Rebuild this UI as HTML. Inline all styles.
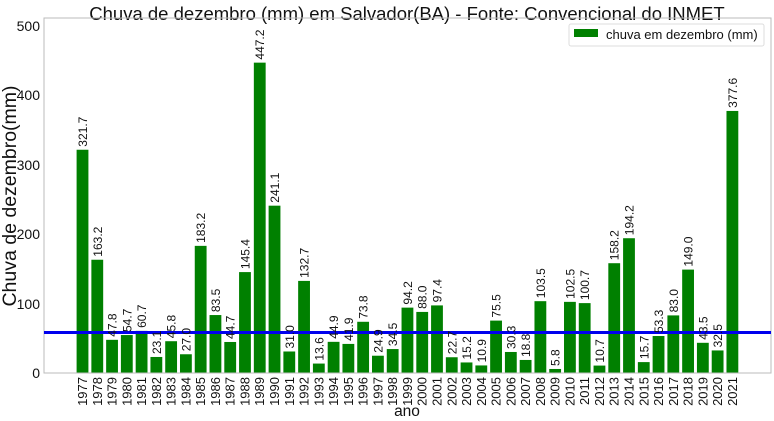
<!DOCTYPE html>
<html><head><meta charset="utf-8"><style>
html,body{margin:0;padding:0;background:#fff;}
svg{display:block;font-family:"Liberation Sans","DejaVu Sans",sans-serif;}
.v{font-size:12px;fill:#111;}
.y{font-size:13px;fill:#111;text-anchor:end;}
</style></head><body>
<svg width="774" height="421" viewBox="0 0 774 421" xmlns="http://www.w3.org/2000/svg">
<rect width="774" height="421" fill="#fff"/>
<text x="407" y="20" font-size="18.5" text-anchor="middle" fill="#111">Chuva de dezembro (mm) em Salvador(BA) - Fonte: Convencional do INMET</text>
<g transform="matrix(14.77 0 0 -0.694 76.6 373)" fill="#008000">
<rect x="0" y="0" width="0.8" height="321.7"/><rect x="1" y="0" width="0.8" height="163.2"/><rect x="2" y="0" width="0.8" height="47.8"/><rect x="3" y="0" width="0.8" height="54.7"/><rect x="4" y="0" width="0.8" height="60.7"/><rect x="5" y="0" width="0.8" height="23.1"/><rect x="6" y="0" width="0.8" height="45.8"/><rect x="7" y="0" width="0.8" height="27.0"/><rect x="8" y="0" width="0.8" height="183.2"/><rect x="9" y="0" width="0.8" height="83.5"/><rect x="10" y="0" width="0.8" height="44.7"/><rect x="11" y="0" width="0.8" height="145.4"/><rect x="12" y="0" width="0.8" height="447.2"/><rect x="13" y="0" width="0.8" height="241.1"/><rect x="14" y="0" width="0.8" height="31.0"/><rect x="15" y="0" width="0.8" height="132.7"/><rect x="16" y="0" width="0.8" height="13.6"/><rect x="17" y="0" width="0.8" height="44.9"/><rect x="18" y="0" width="0.8" height="41.9"/><rect x="19" y="0" width="0.8" height="73.8"/><rect x="20" y="0" width="0.8" height="24.9"/><rect x="21" y="0" width="0.8" height="34.5"/><rect x="22" y="0" width="0.8" height="94.2"/><rect x="23" y="0" width="0.8" height="88.0"/><rect x="24" y="0" width="0.8" height="97.4"/><rect x="25" y="0" width="0.8" height="22.7"/><rect x="26" y="0" width="0.8" height="15.2"/><rect x="27" y="0" width="0.8" height="10.9"/><rect x="28" y="0" width="0.8" height="75.5"/><rect x="29" y="0" width="0.8" height="30.3"/><rect x="30" y="0" width="0.8" height="18.8"/><rect x="31" y="0" width="0.8" height="103.5"/><rect x="32" y="0" width="0.8" height="5.8"/><rect x="33" y="0" width="0.8" height="102.5"/><rect x="34" y="0" width="0.8" height="100.7"/><rect x="35" y="0" width="0.8" height="10.7"/><rect x="36" y="0" width="0.8" height="158.2"/><rect x="37" y="0" width="0.8" height="194.2"/><rect x="38" y="0" width="0.8" height="15.7"/><rect x="39" y="0" width="0.8" height="53.3"/><rect x="40" y="0" width="0.8" height="83.0"/><rect x="41" y="0" width="0.8" height="149.0"/><rect x="42" y="0" width="0.8" height="43.5"/><rect x="43" y="0" width="0.8" height="32.5"/><rect x="44" y="0" width="0.8" height="377.6"/>
</g>
<rect x="44" y="18" width="727" height="355" fill="none" stroke="#bbb" stroke-width="1"/>
<line x1="44" y1="332.5" x2="771" y2="332.5" stroke="#0000ee" stroke-width="3"/>
<g font-size="14" fill="#111" text-anchor="end">
<text x="40" y="378">0</text><text x="40" y="309">100</text><text x="40" y="239">200</text><text x="40" y="170">300</text><text x="40" y="100">400</text><text x="40" y="31">500</text>
</g>
<text transform="translate(16,196) rotate(-90)" font-size="19.5" text-anchor="middle" fill="#111">Chuva de dezembro(mm)</text>
<text x="407" y="416" font-size="15.5" text-anchor="middle" fill="#111">ano</text>
<g class="v">
<text transform="translate(87,146.7) rotate(-90)">321.7</text>
<text transform="translate(101.8,256.7) rotate(-90)">163.2</text>
<text transform="translate(116.5,336.8) rotate(-90)">47.8</text>
<text transform="translate(131.3,332) rotate(-90)">54.7</text>
<text transform="translate(146.1,327.9) rotate(-90)">60.7</text>
<text transform="translate(160.9,354) rotate(-90)">23.1</text>
<text transform="translate(175.6,338.2) rotate(-90)">45.8</text>
<text transform="translate(190.4,351.3) rotate(-90)">27.0</text>
<text transform="translate(205.2,242.9) rotate(-90)">183.2</text>
<text transform="translate(219.9,312.1) rotate(-90)">83.5</text>
<text transform="translate(234.7,339) rotate(-90)">44.7</text>
<text transform="translate(249.5,269.1) rotate(-90)">145.4</text>
<text transform="translate(264.2,59.6) rotate(-90)">447.2</text>
<text transform="translate(279,202.7) rotate(-90)">241.1</text>
<text transform="translate(293.8,348.5) rotate(-90)">31.0</text>
<text transform="translate(308.6,277.9) rotate(-90)">132.7</text>
<text transform="translate(323.3,360.6) rotate(-90)">13.6</text>
<text transform="translate(338.1,338.8) rotate(-90)">44.9</text>
<text transform="translate(352.9,340.9) rotate(-90)">41.9</text>
<text transform="translate(367.6,318.8) rotate(-90)">73.8</text>
<text transform="translate(382.4,352.7) rotate(-90)">24.9</text>
<text transform="translate(397.2,346.1) rotate(-90)">34.5</text>
<text transform="translate(411.9,304.6) rotate(-90)">94.2</text>
<text transform="translate(426.7,308.9) rotate(-90)">88.0</text>
<text transform="translate(441.5,302.4) rotate(-90)">97.4</text>
<text transform="translate(456.3,354.2) rotate(-90)">22.7</text>
<text transform="translate(471,359.5) rotate(-90)">15.2</text>
<text transform="translate(485.8,362.4) rotate(-90)">10.9</text>
<text transform="translate(500.6,317.6) rotate(-90)">75.5</text>
<text transform="translate(515.3,349) rotate(-90)">30.3</text>
<text transform="translate(530.1,357) rotate(-90)">18.8</text>
<text transform="translate(544.9,298.2) rotate(-90)">103.5</text>
<text transform="translate(559.6,366) rotate(-90)">5.8</text>
<text transform="translate(574.4,298.9) rotate(-90)">102.5</text>
<text transform="translate(589.2,300.1) rotate(-90)">100.7</text>
<text transform="translate(604,362.6) rotate(-90)">10.7</text>
<text transform="translate(618.7,260.2) rotate(-90)">158.2</text>
<text transform="translate(633.5,235.2) rotate(-90)">194.2</text>
<text transform="translate(648.3,359.1) rotate(-90)">15.7</text>
<text transform="translate(663,333) rotate(-90)">53.3</text>
<text transform="translate(677.8,312.4) rotate(-90)">83.0</text>
<text transform="translate(692.6,266.6) rotate(-90)">149.0</text>
<text transform="translate(707.3,339.8) rotate(-90)">43.5</text>
<text transform="translate(722.1,347.4) rotate(-90)">32.5</text>
<text transform="translate(736.9,107.9) rotate(-90)">377.6</text>
</g>
<g class="y">
<text transform="translate(87,377) rotate(-90)">1977</text>
<text transform="translate(101.8,377) rotate(-90)">1978</text>
<text transform="translate(116.5,377) rotate(-90)">1979</text>
<text transform="translate(131.3,377) rotate(-90)">1980</text>
<text transform="translate(146.1,377) rotate(-90)">1981</text>
<text transform="translate(160.9,377) rotate(-90)">1982</text>
<text transform="translate(175.6,377) rotate(-90)">1983</text>
<text transform="translate(190.4,377) rotate(-90)">1984</text>
<text transform="translate(205.2,377) rotate(-90)">1985</text>
<text transform="translate(219.9,377) rotate(-90)">1986</text>
<text transform="translate(234.7,377) rotate(-90)">1987</text>
<text transform="translate(249.5,377) rotate(-90)">1988</text>
<text transform="translate(264.2,377) rotate(-90)">1989</text>
<text transform="translate(279,377) rotate(-90)">1990</text>
<text transform="translate(293.8,377) rotate(-90)">1991</text>
<text transform="translate(308.6,377) rotate(-90)">1992</text>
<text transform="translate(323.3,377) rotate(-90)">1993</text>
<text transform="translate(338.1,377) rotate(-90)">1994</text>
<text transform="translate(352.9,377) rotate(-90)">1995</text>
<text transform="translate(367.6,377) rotate(-90)">1996</text>
<text transform="translate(382.4,377) rotate(-90)">1997</text>
<text transform="translate(397.2,377) rotate(-90)">1998</text>
<text transform="translate(411.9,377) rotate(-90)">1999</text>
<text transform="translate(426.7,377) rotate(-90)">2000</text>
<text transform="translate(441.5,377) rotate(-90)">2001</text>
<text transform="translate(456.3,377) rotate(-90)">2002</text>
<text transform="translate(471,377) rotate(-90)">2003</text>
<text transform="translate(485.8,377) rotate(-90)">2004</text>
<text transform="translate(500.6,377) rotate(-90)">2005</text>
<text transform="translate(515.3,377) rotate(-90)">2006</text>
<text transform="translate(530.1,377) rotate(-90)">2007</text>
<text transform="translate(544.9,377) rotate(-90)">2008</text>
<text transform="translate(559.6,377) rotate(-90)">2009</text>
<text transform="translate(574.4,377) rotate(-90)">2010</text>
<text transform="translate(589.2,377) rotate(-90)">2011</text>
<text transform="translate(604,377) rotate(-90)">2012</text>
<text transform="translate(618.7,377) rotate(-90)">2013</text>
<text transform="translate(633.5,377) rotate(-90)">2014</text>
<text transform="translate(648.3,377) rotate(-90)">2015</text>
<text transform="translate(663,377) rotate(-90)">2016</text>
<text transform="translate(677.8,377) rotate(-90)">2017</text>
<text transform="translate(692.6,377) rotate(-90)">2018</text>
<text transform="translate(707.3,377) rotate(-90)">2019</text>
<text transform="translate(722.1,377) rotate(-90)">2020</text>
<text transform="translate(736.9,377) rotate(-90)">2021</text>
</g>
<rect x="569" y="24" width="195" height="22" rx="2" fill="#fff" fill-opacity="0.85" stroke="#ddd"/>
<rect x="574" y="29" width="24" height="8" fill="#008000"/>
<text x="606" y="39" font-size="13" fill="#111">chuva em dezembro (mm)</text>
</svg>
</body></html>
